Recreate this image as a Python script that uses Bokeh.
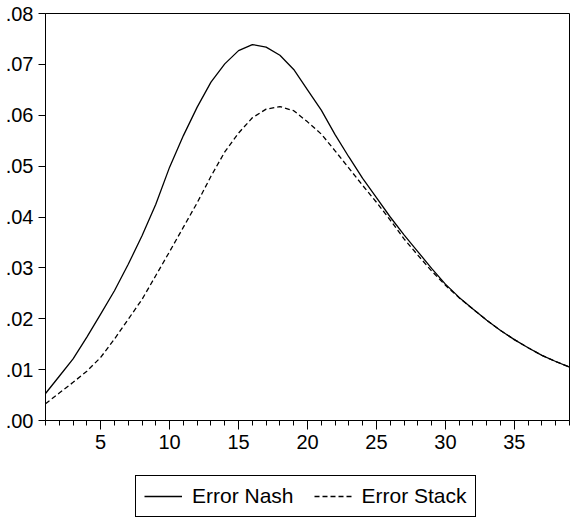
from bokeh.plotting import figure
from bokeh.layouts import column
from bokeh.models import (Range1d, FixedTicker, CustomJSTickFormatter, Legend,
                          LegendItem, ColumnDataSource)
from bokeh.embed import file_html
from bokeh.resources import INLINE

# ---- data ----
periods = list(range(1, 40))
error_nash = [0.0053, 0.0087, 0.0121, 0.0164, 0.0209, 0.0255, 0.0307, 0.0363, 0.0425,
              0.0498, 0.0560, 0.0616, 0.0665, 0.0701, 0.0727, 0.0739, 0.0734, 0.0718,
              0.0690, 0.0650, 0.0610, 0.0562, 0.0518, 0.0476, 0.0438, 0.0400, 0.0365,
              0.0332, 0.0299, 0.0268, 0.0242, 0.0219, 0.0197, 0.0177, 0.0159, 0.0143,
              0.0128, 0.0116, 0.0105]
error_stack = [0.0033, 0.0054, 0.0075, 0.0097, 0.0124, 0.0160, 0.0199, 0.0238, 0.0285,
               0.0332, 0.0380, 0.0428, 0.0480, 0.0528, 0.0565, 0.0595, 0.0612, 0.0617,
               0.0609, 0.0587, 0.0563, 0.0530, 0.0496, 0.0462, 0.0429, 0.0394, 0.0357,
               0.0325, 0.0294, 0.0266, 0.0241, 0.0219, 0.0197, 0.0177, 0.0159, 0.0143,
               0.0128, 0.0116, 0.0105]
x_major_ticks = [5, 10, 15, 20, 25, 30, 35]
y_ticks = [0.0, 0.01, 0.02, 0.03, 0.04, 0.05, 0.06, 0.07, 0.08]
series_names = ["Error Nash", "Error Stack"]

FONT = "Liberation Sans"
FS = "20px"
DASH = "5 3"

p = figure(width=584, height=470, output_backend="svg", toolbar_location=None,
           x_range=Range1d(1, 39), y_range=Range1d(0, 0.08),
           min_border_left=45, min_border_right=15, min_border_top=13,
           min_border_bottom=50)
p.background_fill_color = "white"
p.border_fill_color = "white"
p.outline_line_color = "black"
p.outline_line_width = 1
p.xgrid.visible = False
p.ygrid.visible = False

src = ColumnDataSource(dict(x=periods, nash=error_nash, stack=error_stack))
p.line("x", "nash", source=src, line_color="black", line_width=1.3)
p.line("x", "stack", source=src, line_color="black", line_width=1.3, line_dash=DASH)

# x axis
xa = p.xaxis[0]
xa.ticker = FixedTicker(ticks=x_major_ticks, minor_ticks=periods)
xa.major_tick_out = 9
xa.major_tick_in = 0
xa.minor_tick_out = 5
xa.minor_tick_in = 0
xa.major_label_text_font = FONT
xa.major_label_text_font_size = FS
xa.major_label_text_color = "black"
xa.axis_line_color = "black"
xa.major_tick_line_color = "black"
xa.minor_tick_line_color = "black"
xa.major_label_standoff = 5

# y axis
ya = p.yaxis[0]
ya.ticker = FixedTicker(ticks=y_ticks, minor_ticks=[])
ya.formatter = CustomJSTickFormatter(code="return tick.toFixed(2).replace(/^0/, '');")
ya.major_tick_out = 7
ya.major_tick_in = 0
ya.minor_tick_out = 0
ya.minor_tick_in = 0
ya.major_label_text_font = FONT
ya.major_label_text_font_size = FS
ya.major_label_text_color = "black"
ya.axis_line_color = "black"
ya.major_tick_line_color = "black"
ya.major_label_standoff = 5

# legend strip below the chart (its view range excludes the data, so only the
# legend keys are drawn)
lg = figure(width=584, height=48, output_backend="svg", toolbar_location=None,
            x_axis_type=None, y_axis_type=None, x_range=Range1d(1000, 1001),
            y_range=Range1d(1000, 1001), min_border=0)
lg.outline_line_color = None
lg.xgrid.visible = False
lg.ygrid.visible = False
lg.background_fill_color = "white"
lg.border_fill_color = "white"
k1 = lg.line("x", "nash", source=src, line_color="black", line_width=1.3)
k2 = lg.line("x", "stack", source=src, line_color="black", line_width=1.3,
             line_dash=DASH)

legend = Legend(items=[LegendItem(label=series_names[0], renderers=[k1]),
                       LegendItem(label=series_names[1], renderers=[k2])],
                orientation="horizontal", location=(90, 1))
legend.label_text_font = FONT
legend.label_text_font_size = "21px"
legend.label_text_color = "black"
legend.border_line_color = "black"
legend.border_line_alpha = 1
legend.border_line_width = 1
legend.background_fill_color = "white"
legend.glyph_width = 38
legend.glyph_height = 20
legend.label_standoff = 10
legend.spacing = 20
legend.padding = 8
legend.margin = 0
legend.label_height = 20
lg.add_layout(legend, "center")

layout = column(p, lg, spacing=0)
open("out.html", "w").write(file_html(layout, INLINE))
